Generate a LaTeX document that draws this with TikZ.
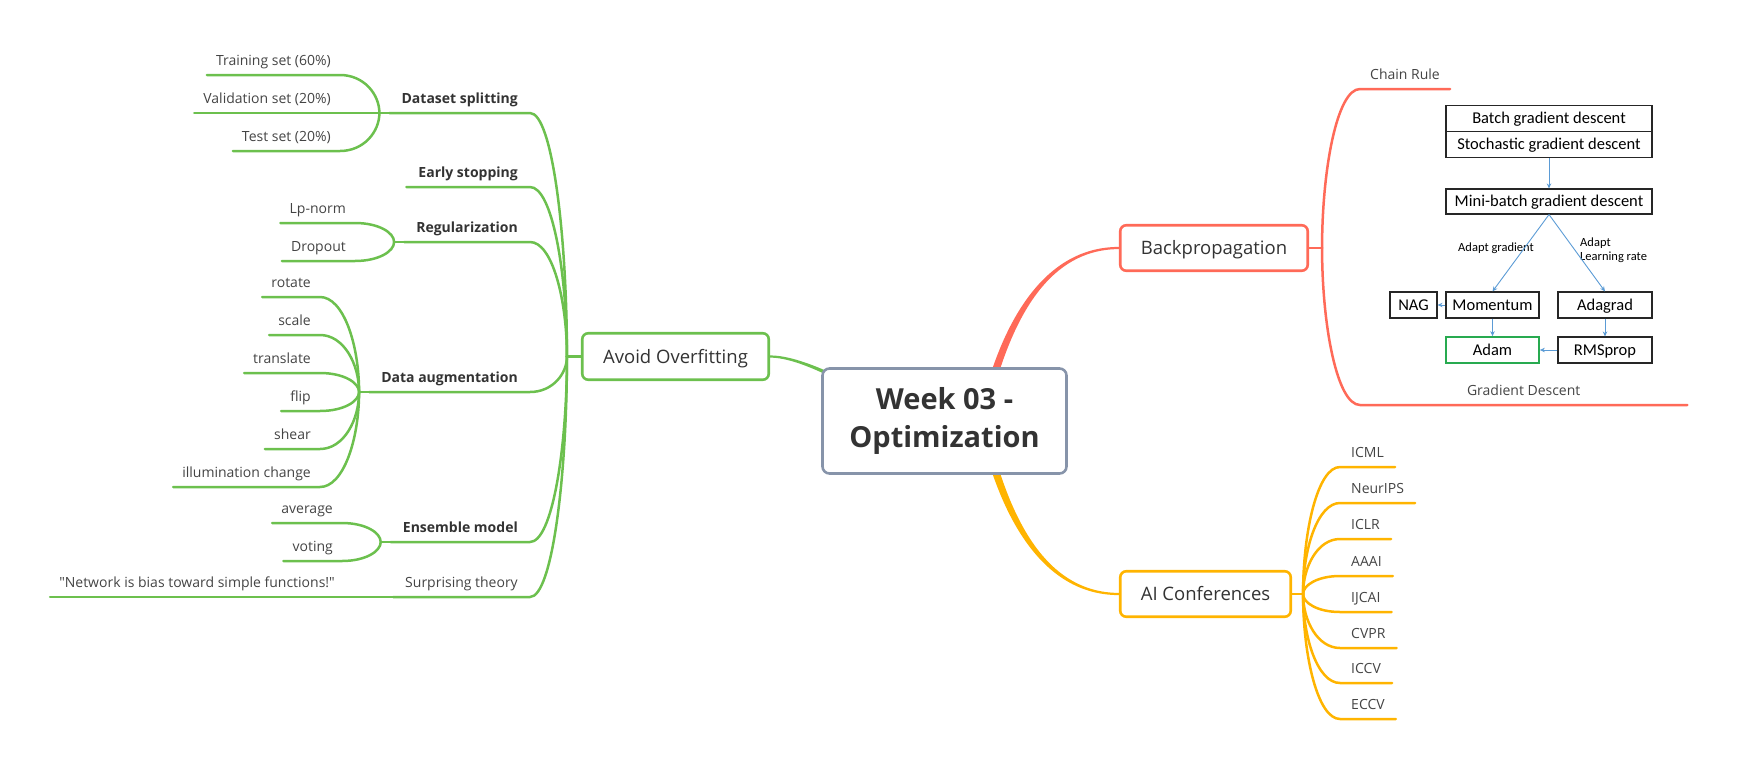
\documentclass[tikz,border=0pt]{standalone}
\usepackage{fontspec}
\setmainfont{Open Sans}
\newfontfamily\nomap{Open Sans}[Ligatures=TeXOff]
\newfontfamily\carl{Carlito}
\usetikzlibrary{calc,arrows.meta,backgrounds}
\definecolor{gr}{RGB}{108,192,78}
\definecolor{rd}{RGB}{255,106,88}
\definecolor{yl}{RGB}{255,180,0}
\definecolor{cb}{RGB}{135,148,170}
\definecolor{tx}{RGB}{51,51,51}
\definecolor{lt}{RGB}{68,68,68}
\definecolor{ab}{RGB}{91,155,213}
\definecolor{adamg}{RGB}{40,170,80}
% branch to a left leaf: curve to its south east, then underline
\newcommand\lbr[3]{\draw[conn,#1] (#2) .. controls ($(#2)!0.5!(#2 |- #3.south east)$) and ($(#3.south east)!0.6!(#2 |- #3.south east)$) .. (#3.south east) -- (#3.south west);}
% branch to a right leaf
\newcommand\rbr[3]{\draw[conn,#1] (#2) .. controls ($(#2)!0.5!(#2 |- #3.south west)$) and ($(#3.south west)!0.6!(#2 |- #3.south west)$) .. (#3.south west) -- (#3.south east);}
\begin{document}
\begin{tikzpicture}[x=1pt,y=-1pt,
  topic/.style={draw, line width=2.6pt, rounded corners=6pt, fill=white, text=tx,
    font=\fontsize{18.5}{22}\selectfont, text height=13pt, text depth=0pt, inner sep=0pt},
  leaf/.style={text=lt, font=\fontsize{14}{17}\selectfont, text height=10.5pt, text depth=3pt,
    inner ysep=6pt, inner xsep=9pt},
  subt/.style={leaf, text=tx, font=\fontsize{14}{17}\selectfont\bfseries, inner xsep=12pt},
  rleaf/.style={leaf, anchor=south west, inner xsep=11pt},
  conn/.style={line width=2.5pt, line cap=round},
  fc/.style={draw=black!85, line width=1.1pt, fill=white, font=\carl\fontsize{16.5}{18}\selectfont,
    inner sep=0pt, text height=10.6pt, text depth=0pt, minimum height=25pt},
  fa/.style={draw=ab, line width=0.9pt, -{Stealth[length=5pt,width=4.5pt]}},
  fl/.style={font=\carl\fontsize{12.5}{14.5}\selectfont, text=black, inner sep=0pt},
]
\useasboundingbox (0,0) rectangle (1737,771);

% ---------------- main topics ----------------
\node[draw=cb, line width=2.6pt, rounded corners=7pt, fill=white, minimum width=244pt,
  minimum height=105pt, align=center, font=\fontsize{29}{38}\selectfont\bfseries, text=tx,
  inner sep=0pt] (c) at (944.5,421) {Week 03 -\\Optimization};
\node[topic, draw=gr, minimum width=186.5pt, minimum height=46.5pt] (ao) at (675.5,356.5) {Avoid Overfitting};
\node[topic, draw=rd, minimum width=187.5pt, minimum height=45.5pt] (bk) at (1214,248) {Backpropagation};
\node[topic, draw=yl, minimum width=170.5pt, minimum height=45.5pt] (ai) at (1205.5,594) {AI Conferences};

\coordinate (aobp) at ($(ao.west)+(-14,0)$);
\coordinate (bkbp) at ($(bk.east)+(13,0)$);
\coordinate (aibp) at ($(ai.east)+(11,0)$);

% ---------------- left: subtopics ----------------
\node[subt, anchor=south east] (ds) at (530,113) {Dataset splitting};
\node[subt, anchor=south east] (es) at (530,187) {Early stopping};
\node[subt, anchor=south east] (rg) at (530,242) {Regularization};
\node[subt, anchor=south east] (da) at (530,392) {Data augmentation};
\node[subt, anchor=south east] (em) at (530,542) {Ensemble model};
\node[leaf, text=lt, inner xsep=12pt, anchor=south east] (st) at (530,597) {Surprising theory};

\coordinate (dsj) at ($(ds.south west)+(-10,0)$);
\coordinate (rgj) at ($(rg.south west)+(-10,0)$);
\coordinate (daj) at ($(da.south west)+(-10,0)$);
\coordinate (emj) at ($(em.south west)+(-10,0)$);

% leaves
\node[leaf, anchor=south east] (tr) at (340,75) {Training set (60\%)};
\node[leaf, anchor=south east] (va) at (340,113) {Validation set (20\%)};
\node[leaf, anchor=south east] (te) at (340,151) {Test set (20\%)};
\node[leaf, anchor=south east] (lp) at (355,223) {Lp-norm};
\node[leaf, anchor=south east] (dr) at (355,261) {Dropout};
\node[leaf, anchor=south east] (ro) at (320,297) {rotate};
\node[leaf, anchor=south east] (sc) at (320,335) {scale};
\node[leaf, anchor=south east] (tl) at (320,373) {translate};
\node[leaf, anchor=south east] (fp) at (320,411) {flip};
\node[leaf, anchor=south east] (sh) at (320,449) {shear};
\node[leaf, anchor=south east] (il) at (320,487) {illumination change};
\node[leaf, anchor=south east] (av) at (342,523) {average};
\node[leaf, anchor=south east] (vo) at (342,561) {voting};
\node[leaf, anchor=south east] (nt) at (344,597) {{\nomap"}Network is bias toward simple functions!{\nomap"}};

% ---------------- right: backpropagation ----------------
\node[rleaf, inner xsep=10pt] (cr) at (1360,89) {Chain Rule};
\node[rleaf, minimum width=327pt, inner xsep=0pt] (gd) at (1360,405) {Gradient Descent};

% flowchart picture of gradient descent
\node[fc, minimum width=206pt, minimum height=26pt] (bgd) at (1549,118.5) {Batch gradient descent};
\node[fc, minimum width=206pt, minimum height=26pt] (sgd) at (1549,144.5) {Stochastic gradient descent};
\node[fc, minimum width=206pt] (mb) at (1549,201.5) {Mini-batch gradient descent};
\node[fc, minimum width=47pt, minimum height=26pt] (nag) at (1413.5,305) {NAG};
\node[fc, minimum width=93pt, minimum height=26pt] (mom) at (1492.5,305) {Momentum};
\node[fc, minimum width=94pt, minimum height=26pt] (adg) at (1605,305) {Adagrad};
\node[fc, draw=adamg, line width=1.7pt, minimum width=93pt, minimum height=26pt] (adam) at (1492.5,350) {Adam};
\node[fc, minimum width=94pt, minimum height=26pt] (rms) at (1605,350) {RMSprop};
\node[fl, anchor=base] (l1) at (1496,251.5) {Adapt gradient};
\node[fl, anchor=base west, align=left] (l2) at (1580,260.5) {Adapt\\Learning rate};

\draw[fa] (sgd.south) -- (mb.north);
\draw[fa] (mb.south) -- (mom.north);
\draw[fa] (mb.south) -- (adg.north);
\draw[fa] (mom.west) -- (nag.east);
\draw[fa] (mom.south) -- (adam.north);
\draw[fa] (adg.south) -- (rms.north);
\draw[fa] (rms.west) -- (adam.east);

% ---------------- right: conferences ----------------
\node[rleaf] (icml) at (1340,467) {ICML};
\node[rleaf] (nips) at (1340,503) {NeurIPS};
\node[rleaf] (iclr) at (1340,539) {ICLR};
\node[rleaf] (aaai) at (1340,576) {AAAI};
\node[rleaf] (ijca) at (1340,612) {IJCAI};
\node[rleaf] (cvpr) at (1340,648) {CVPR};
\node[rleaf] (iccv) at (1340,683) {ICCV};
\node[rleaf] (eccv) at (1340,719) {ECCV};

% ---------------- connectors ----------------
\begin{pgfonlayer}{background}
% main tapered connectors
\fill[rd] ($(c.center)+(36,-11)$) .. controls ($(c.center)+(55,-91)$) and ($(bk.west)+(-79,-1.2)$) ..
  ($(bk.west)+(0,-1.1)$) -- ($(bk.west)+(0,1.1)$) .. controls ($(bk.west)+(-77,1.2)$) and ($(c.center)+(63,-89)$) ..
  ($(c.center)+(44,-11)$) -- cycle;
\fill[yl] ($(c.center)+(36,11)$) .. controls ($(c.center)+(55,91)$) and ($(ai.west)+(-79,1.2)$) ..
  ($(ai.west)+(0,1.1)$) -- ($(ai.west)+(0,-1.1)$) .. controls ($(ai.west)+(-77,-1.2)$) and ($(c.center)+(63,89)$) ..
  ($(c.center)+(44,11)$) -- cycle;
\fill[gr] ($(c.center)+(-86,-35)$) .. controls ($(c.center)+(-115.5,-49.5)$) and ($(ao.east)+(25,-1.1)$) ..
  ($(ao.east)+(0,-1.1)$) -- ($(ao.east)+(0,1.1)$) .. controls ($(ao.east)+(25,1.1)$) and ($(c.center)+(-113.5,-44.5)$) ..
  ($(c.center)+(-84,-29)$) -- cycle;

% left trunk
\draw[conn,gr] (ao.west) -- (aobp);
\lbr{gr}{aobp}{ds}
\lbr{gr}{aobp}{es}
\lbr{gr}{aobp}{rg}
\lbr{gr}{aobp}{da}
\lbr{gr}{aobp}{em}
\lbr{gr}{aobp}{st}
\draw[conn,gr] (st.south west) -- (nt.south east) -- (nt.south west);
\draw[conn,gr] (ds.south west) -- (dsj);
\draw[conn,gr] (rg.south west) -- (rgj);
\draw[conn,gr] (da.south west) -- (daj);
\draw[conn,gr] (em.south west) -- (emj);
\lbr{gr}{dsj}{tr}
\lbr{gr}{dsj}{va}
\lbr{gr}{dsj}{te}
\lbr{gr}{rgj}{lp}
\lbr{gr}{rgj}{dr}
\lbr{gr}{daj}{ro}
\lbr{gr}{daj}{sc}
\lbr{gr}{daj}{tl}
\lbr{gr}{daj}{fp}
\lbr{gr}{daj}{sh}
\lbr{gr}{daj}{il}
\lbr{gr}{emj}{av}
\lbr{gr}{emj}{vo}

% backpropagation branches
\draw[conn,rd] (bk.east) -- (bkbp);
\rbr{rd}{bkbp}{cr}
\rbr{rd}{bkbp}{gd}

% conference branches
\draw[conn,yl] (ai.east) -- (aibp);
\rbr{yl}{aibp}{icml}
\rbr{yl}{aibp}{nips}
\rbr{yl}{aibp}{iclr}
\rbr{yl}{aibp}{aaai}
\rbr{yl}{aibp}{ijca}
\rbr{yl}{aibp}{cvpr}
\rbr{yl}{aibp}{iccv}
\rbr{yl}{aibp}{eccv}
\end{pgfonlayer}
\end{tikzpicture}
\end{document}
